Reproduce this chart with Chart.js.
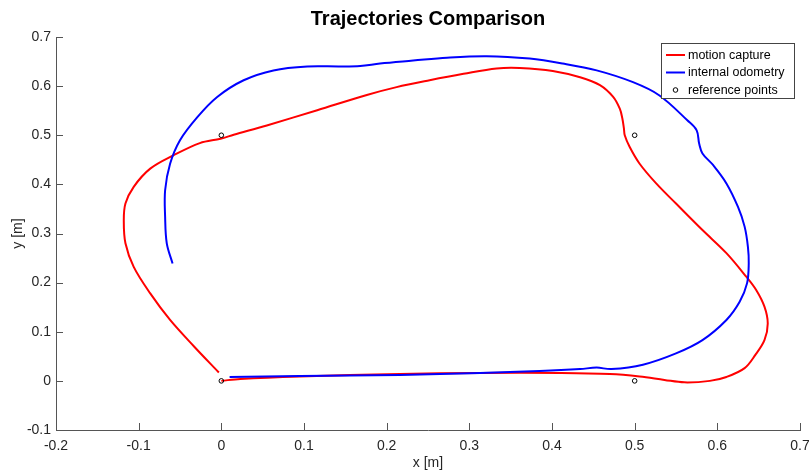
<!DOCTYPE html>
<html>
<head>
<meta charset="utf-8">
<script src="https://cdn.jsdelivr.net/npm/chart.js@4.4.1/dist/chart.umd.min.js"></script>
<style>
  body { margin: 0; background: #fff; }
  canvas { display: block; }
</style>
</head>
<body>
<canvas id="trajChart" width="809" height="472"></canvas>
<script>
// motion capture (red)
let mocapX = [0, 0.023, 0.095, 0.216, 0.313, 0.409, 0.47, 0.506, 0.536, 0.56, 0.591, 0.611, 0.633, 0.646, 0.657, 0.661, 0.657, 0.647, 0.635, 0.611, 0.582, 0.55, 0.526, 0.506, 0.494, 0.488, 0.487, 0.485, 0.482, 0.474, 0.458, 0.434, 0.401, 0.361, 0.333, 0.293, 0.252, 0.212, 0.176, 0.116, 0.055, 0.015, -0.001, -0.026, -0.058, -0.086, -0.106, -0.116, -0.118, -0.116, -0.106, -0.086, -0.062, -0.033, -0.003];
let mocapY = [0, 0.004, 0.009, 0.014, 0.016, 0.016, 0.014, 0.009, 0.002, -0.003, 0.0, 0.008, 0.026, 0.053, 0.083, 0.117, 0.151, 0.185, 0.212, 0.26, 0.307, 0.361, 0.402, 0.442, 0.476, 0.5, 0.514, 0.535, 0.554, 0.578, 0.602, 0.618, 0.631, 0.637, 0.636, 0.625, 0.612, 0.598, 0.582, 0.551, 0.52, 0.501, 0.493, 0.484, 0.459, 0.432, 0.395, 0.361, 0.327, 0.28, 0.232, 0.178, 0.124, 0.07, 0.017];

// internal odometry (blue)
let odomX = [0.010, 0.095, 0.216, 0.313, 0.385, 0.434, 0.454, 0.472, 0.510, 0.550, 0.582, 0.611, 0.627, 0.636, 0.638, 0.637, 0.633, 0.625, 0.611, 0.595, 0.582, 0.578, 0.575, 0.564, 0.530, 0.498, 0.454, 0.413, 0.373, 0.321, 0.273, 0.232, 0.192, 0.168, 0.144, 0.104, 0.063, 0.027, -0.005, -0.029, -0.050, -0.062, -0.068, -0.068, -0.066, -0.059];
let odomY = [0.008, 0.010, 0.012, 0.016, 0.020, 0.024, 0.027, 0.024, 0.033, 0.056, 0.083, 0.124, 0.161, 0.199, 0.239, 0.273, 0.314, 0.354, 0.402, 0.439, 0.463, 0.483, 0.510, 0.530, 0.581, 0.608, 0.632, 0.646, 0.656, 0.661, 0.658, 0.652, 0.646, 0.641, 0.640, 0.640, 0.632, 0.612, 0.578, 0.537, 0.490, 0.442, 0.388, 0.334, 0.280, 0.239];

// reference points
let refX = [0, 0, 0.5, 0.5];
let refY = [0, 0.5, 0.5, 0];

let labels = ['motion capture', 'internal odometry', 'reference points'];

function toPoints(xs, ys) {
  return xs.map((x, i) => ({ x: x, y: ys[i] }));
}

let fontFamily = '"Liberation Sans", Arial, Helvetica, sans-serif';

// MATLAB style inward tick marks
const inwardTicks = {
  id: 'inwardTicks',
  afterDraw(chart) {
    const ctx = chart.ctx;
    const xs = chart.scales.x, ys = chart.scales.y;
    const area = chart.chartArea;
    ctx.save();
    ctx.strokeStyle = '#555';
    ctx.lineWidth = 1;
    ctx.beginPath();
    xs.ticks.forEach(t => {
      const px = Math.round(xs.getPixelForValue(t.value)) + 0.5;
      ctx.moveTo(px, area.bottom);
      ctx.lineTo(px, area.bottom - 7);
    });
    ys.ticks.forEach(t => {
      const py = Math.round(ys.getPixelForValue(t.value)) + 0.5;
      ctx.moveTo(area.left, py);
      ctx.lineTo(area.left + 7, py);
    });
    ctx.stroke();
    ctx.restore();
  }
};

// boxed legend in the top right corner
const boxLegend = {
  id: 'boxLegend',
  afterDraw(chart) {
    const ctx = chart.ctx;
    const x0 = 661, y0 = 43, w = 133, h = 55;
    ctx.save();
    ctx.fillStyle = '#fff';
    ctx.fillRect(x0, y0, w, h);
    ctx.strokeStyle = '#444';
    ctx.lineWidth = 1;
    ctx.strokeRect(x0 + 0.5, y0 + 0.5, w, h);
    ctx.font = '12.5px ' + fontFamily;
    ctx.textBaseline = 'middle';
    ctx.fillStyle = '#000';
    const rows = [55, 72.5, 90];
    chart.data.datasets.forEach((ds, i) => {
      const y = rows[i];
      if (ds.showLine) {
        ctx.strokeStyle = ds.borderColor;
        ctx.lineWidth = 2;
        ctx.beginPath();
        ctx.moveTo(666, y);
        ctx.lineTo(685, y);
        ctx.stroke();
      } else {
        ctx.strokeStyle = '#000';
        ctx.lineWidth = 1;
        ctx.beginPath();
        ctx.arc(675.5, y, 2.3, 0, Math.PI * 2);
        ctx.stroke();
      }
      ctx.fillStyle = '#000';
      ctx.fillText(ds.label, 688, y + 0.5);
    });
    ctx.restore();
  }
};

let trajChart = new Chart(document.getElementById('trajChart').getContext('2d'), {
  type: 'scatter',
  data: {
    datasets: [{
      label: labels[0],
      data: toPoints(mocapX, mocapY),
      showLine: true,
      borderColor: '#ff0000',
      borderWidth: 2,
      pointRadius: 0,
      tension: 0.35,
      order: 3
    }, {
      label: labels[1],
      data: toPoints(odomX, odomY),
      showLine: true,
      borderColor: '#0000ff',
      borderWidth: 2,
      pointRadius: 0,
      tension: 0.35,
      order: 2
    }, {
      label: labels[2],
      data: toPoints(refX, refY),
      showLine: false,
      pointStyle: 'circle',
      pointRadius: 2.3,
      pointBorderWidth: 1,
      pointBackgroundColor: 'rgba(0,0,0,0)',
      pointBorderColor: '#000',
      order: 1
    }]
  },
  options: {
    responsive: false,
    animation: false,
    layout: { padding: { left: 0, right: 0, top: 0, bottom: 0 } },
    plugins: {
      legend: { display: false },
      tooltip: { enabled: false },
      title: {
        display: true,
        fullSize: false,
        text: 'Trajectories Comparison',
        color: '#000',
        font: { family: fontFamily, size: 20, weight: 'bold' },
        padding: { top: 7, bottom: 6 }
      }
    },
    scales: {
      x: {
        type: 'linear',
        min: -0.2,
        max: 0.7,
        grid: { display: false, drawTicks: false },
        border: { display: true, color: '#555', width: 1 },
        ticks: {
          stepSize: 0.1,
          padding: 8,
          color: '#262626',
          font: { family: fontFamily, size: 14 },
          callback: v => Math.round(v * 10) / 10
        },
        title: {
          display: true,
          text: 'x [m]',
          color: '#262626',
          font: { family: fontFamily, size: 14 },
          padding: { top: 0, bottom: 0 }
        },
        afterFit(scale) {
          scale.height = 42;
          scale.paddingLeft = 0;
          scale.paddingRight = 9;
        }
      },
      y: {
        type: 'linear',
        min: -0.1,
        max: 0.7,
        grid: { display: false, drawTicks: false },
        border: { display: true, color: '#555', width: 1 },
        ticks: {
          stepSize: 0.1,
          padding: 5,
          color: '#262626',
          font: { family: fontFamily, size: 14 },
          callback: v => Math.round(v * 10) / 10
        },
        title: {
          display: true,
          text: 'y [m]',
          color: '#262626',
          font: { family: fontFamily, size: 14 },
          padding: { top: 10, bottom: 10 }
        },
        afterFit(scale) { scale.width = 56; }
      }
    }
  },
  plugins: [inwardTicks, boxLegend]
});
</script>
</body>
</html>
